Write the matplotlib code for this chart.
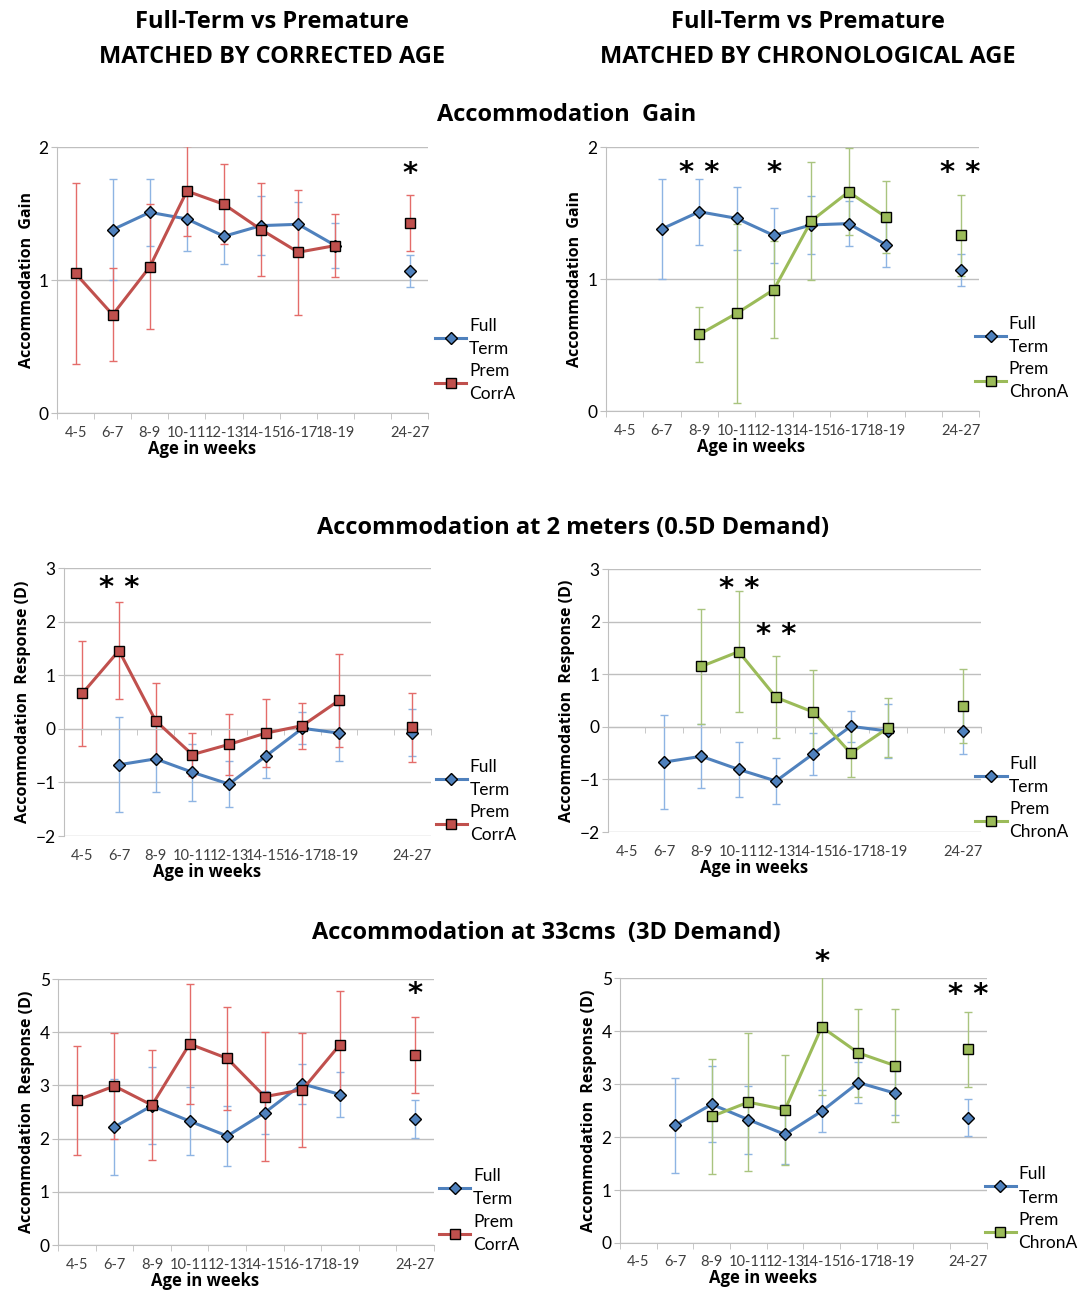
import numpy as np
import matplotlib
matplotlib.use('Agg')
import matplotlib.pyplot as plt

plt.rcParams['font.family'] = ['Lato', 'DejaVu Sans']
BOLD_FONT = ['Open Sans', 'DejaVu Sans']

nan = np.nan
ages = ['4-5', '6-7', '8-9', '10-11', '12-13', '14-15', '16-17', '18-19', '', '24-27']

# accommodation gain
gain_ft = [nan, 1.38, 1.51, 1.46, 1.33, 1.41, 1.42, 1.26, nan, 1.07]
gain_ft_sd = [nan, 0.38, 0.25, 0.24, 0.21, 0.22, 0.17, 0.17, nan, 0.12]
gain_corr = [1.05, 0.74, 1.10, 1.67, 1.57, 1.38, 1.21, 1.26, nan, 1.43]
gain_corr_sd = [0.68, 0.35, 0.47, 0.34, 0.30, 0.35, 0.47, 0.24, nan, 0.21]
gain_chron = [nan, nan, 0.58, 0.74, 0.92, 1.44, 1.66, 1.47, nan, 1.33]
gain_chron_sd = [nan, nan, 0.21, 0.68, 0.37, 0.45, 0.33, 0.27, nan, 0.31]

# 2 m (0.5D demand)
m2_ft = [nan, -0.67, -0.56, -0.81, -1.03, -0.51, 0.01, -0.08, nan, -0.07]
m2_ft_sd = [nan, 0.89, 0.61, 0.53, 0.43, 0.40, 0.30, 0.52, nan, 0.44]
m2_corr = [0.66, 1.46, 0.15, -0.48, -0.29, -0.08, 0.06, 0.53, nan, 0.03]
m2_corr_sd = [0.98, 0.90, 0.70, 0.40, 0.57, 0.64, 0.43, 0.87, nan, 0.64]
m2_chron = [nan, nan, 1.15, 1.43, 0.56, 0.28, -0.50, -0.02, nan, 0.40]
m2_chron_sd = [nan, nan, 1.10, 1.15, 0.78, 0.81, 0.46, 0.56, nan, 0.70]

# 33 cm (3D demand)
cm33_ft = [nan, 2.22, 2.62, 2.33, 2.05, 2.49, 3.03, 2.83, nan, 2.37]
cm33_ft_sd = [nan, 0.90, 0.72, 0.64, 0.56, 0.40, 0.38, 0.42, nan, 0.35]
cm33_corr = [2.72, 2.99, 2.63, 3.78, 3.51, 2.79, 2.92, 3.77, nan, 3.57]
cm33_corr_sd = [1.03, 0.99, 1.04, 1.12, 0.97, 1.21, 1.07, 1.00, nan, 0.72]
cm33_chron = [nan, nan, 2.39, 2.66, 2.52, 4.08, 3.59, 3.35, nan, 3.66]
cm33_chron_sd = [nan, nan, 1.08, 1.30, 1.04, 1.29, 0.83, 1.07, nan, 0.71]

# significance markers: (age label, height, text)
stars_gain_corr = [('24-27', 1.80, '*')]
stars_gain_chron = [('8-9', 1.80, '* *'), ('12-13', 1.80, '*'), ('24-27', 1.80, '* *')]
stars_m2_corr = [('6-7', 2.62, '* *')]
stars_m2_chron = [('10-11', 2.62, '* *'), ('12-13', 1.75, '* *')]
stars_cm33_corr = [('24-27', 4.72, '*')]
stars_cm33_chron = [('14-15', 5.30, '*'), ('24-27', 4.68, '* *')]

BLUE = '#4F81BD'
BLUE_ERR = '#8EB4E3'
RED = '#C0504D'
RED_ERR = '#E46C6A'
GREEN = '#9BBB59'
GREEN_ERR = '#A9C47F'
GRID = '#BFBFBF'


def panel(rect, ft, ft_sd, prem, prem_sd, prem_label, pcol, pcol_err,
          ylim, ylab, stars, axis_at=None, leg_x=0.99, leg_y=0.2):
    ax = fig.add_axes(rect)
    x = np.arange(len(ages))
    ax.errorbar(x, ft, yerr=ft_sd, fmt='none', ecolor=BLUE_ERR, elinewidth=1,
                capsize=3, capthick=1, zorder=2)
    ax.errorbar(x, prem, yerr=prem_sd, fmt='none', ecolor=pcol_err, elinewidth=1,
                capsize=3, capthick=1, zorder=2)
    ax.plot(x, ft, color=BLUE, lw=2.2, marker='D', ms=6, mfc=BLUE, mec='black',
            mew=1, label='Full\nTerm', zorder=4)
    ax.plot(x, prem, color=pcol, lw=2.2, marker='s', ms=6.5, mfc=pcol, mec='black',
            mew=1, label=prem_label, zorder=4)

    ax.set_xlim(-0.5, len(ages) - 0.5)
    ax.set_ylim(*ylim)
    ax.set_yticks(np.arange(ylim[0], ylim[1] + 0.5, 1))
    ax.yaxis.grid(True, color=GRID, lw=1)
    ax.set_axisbelow(True)
    for s in ['top', 'right']:
        ax.spines[s].set_visible(False)
    ax.spines['left'].set_color(GRID)
    ax.spines['bottom'].set_color(GRID)
    ax.tick_params(axis='y', length=4, color=GRID, labelsize=12.5, pad=2)

    if axis_at is None:
        axis_at = ylim[0]
    ax.spines['bottom'].set_position(('data', axis_at))
    ax.set_xticks(np.arange(-0.5, len(ages), 1), minor=True)
    ax.set_xticks(x)
    ax.tick_params(axis='x', which='minor', length=4, color=GRID, direction='out')
    ax.tick_params(axis='x', which='major', length=0, labelbottom=False)
    sec = ax.secondary_xaxis(0)
    sec.set_xticks(x)
    sec.set_xticklabels(ages)
    sec.tick_params(length=0, labelsize=10.5, labelcolor='#404040', pad=9)
    sec.spines['bottom'].set_visible(False)
    sec.set_xlabel('Age in weeks', fontsize=12, fontweight='bold',
                   family=BOLD_FONT, labelpad=0, x=0.39)

    ax.set_ylabel(ylab, fontsize=11.5, fontweight='bold', family=BOLD_FONT,
                  labelpad=3)

    for lab, h, txt in stars:
        ax.text(ages.index(lab), h, txt, ha='center', va='center', fontsize=21,
                fontweight='bold', family='DejaVu Sans', clip_on=False)

    leg = ax.legend(loc='center left', bbox_to_anchor=(leg_x, leg_y), frameon=False,
                    fontsize=12.5, handlelength=1.8, handletextpad=0.15,
                    labelspacing=0.35, borderaxespad=0)
    for t in leg.get_texts():
        t.set_linespacing(1.55)
    return ax


fig = plt.figure(figsize=(10.82, 12.91), dpi=100)

title_kw = dict(ha='center', va='center', fontsize=17, fontweight='bold',
                family=BOLD_FONT)
fig.text(0.251, 0.983, 'Full-Term vs Premature', **title_kw)
fig.text(0.251, 0.956, 'MATCHED BY CORRECTED AGE', **title_kw)
fig.text(0.747, 0.983, 'Full-Term vs Premature', **title_kw)
fig.text(0.747, 0.956, 'MATCHED BY CHRONOLOGICAL AGE', **title_kw)
fig.text(0.524, 0.911, 'Accommodation  Gain', **title_kw)
fig.text(0.530, 0.591, 'Accommodation at 2 meters (0.5D Demand)', **title_kw)
fig.text(0.505, 0.277, 'Accommodation at 33cms  (3D Demand)', **title_kw)

panel([0.0527, 0.680, 0.343, 0.206], gain_ft, gain_ft_sd, gain_corr, gain_corr_sd,
      'Prem\nCorrA', RED, RED_ERR, (0, 2), 'Accommodation  Gain', stars_gain_corr,
      leg_x=1.0)
panel([0.560, 0.6816, 0.345, 0.2045], gain_ft, gain_ft_sd, gain_chron, gain_chron_sd,
      'Prem\nChronA', GREEN, GREEN_ERR, (0, 2), 'Accommodation  Gain', stars_gain_chron,
      leg_x=0.97)
panel([0.0591, 0.3524, 0.339, 0.2076], m2_ft, m2_ft_sd, m2_corr, m2_corr_sd,
      'Prem\nCorrA', RED, RED_ERR, (-2, 3), 'Accommodation  Response (D)',
      stars_m2_corr, axis_at=0, leg_x=0.995, leg_y=0.13)
panel([0.562, 0.3555, 0.345, 0.2037], m2_ft, m2_ft_sd, m2_chron, m2_chron_sd,
      'Prem\nChronA', GREEN, GREEN_ERR, (-2, 3), 'Accommodation  Response (D)',
      stars_m2_chron, axis_at=0, leg_x=0.965, leg_y=0.13)
panel([0.0536, 0.0356, 0.3475, 0.206], cm33_ft, cm33_ft_sd, cm33_corr, cm33_corr_sd,
      'Prem\nCorrA', RED, RED_ERR, (0, 5), 'Accommodation  Response (D)',
      stars_cm33_corr, leg_x=0.995, leg_y=0.13)
panel([0.573, 0.0372, 0.339, 0.205], cm33_ft, cm33_ft_sd, cm33_chron, cm33_chron_sd,
      'Prem\nChronA', GREEN, GREEN_ERR, (0, 5), 'Accommodation  Response (D)',
      stars_cm33_chron, leg_x=0.975, leg_y=0.13)

fig.savefig('out.png', dpi=100)
